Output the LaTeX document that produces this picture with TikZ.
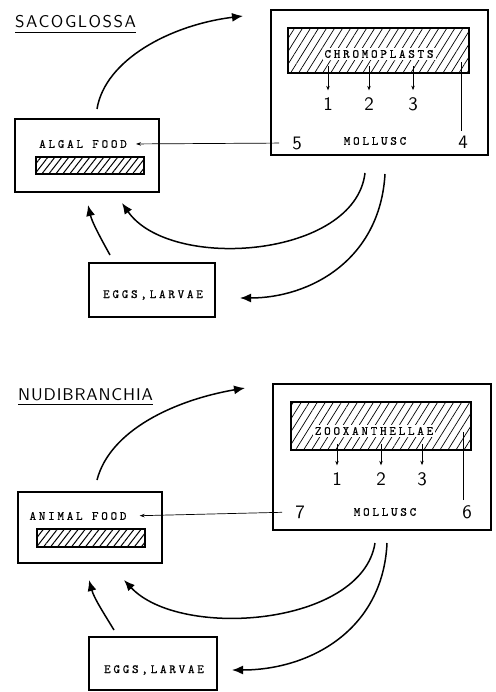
\documentclass[tikz,border=0pt]{standalone}
\usepackage{fontspec}
\usetikzlibrary{arrows.meta,patterns.meta}
\newfontfamily\labfont{lmmono10-regular.otf}[LetterSpace=22,FakeBold=0.6]
\newfontfamily\numfont{lmsans10-regular.otf}
\newfontfamily\ttlfont{lmsans10-regular.otf}[LetterSpace=9]
\newfontfamily\ttlfontb{lmsans10-regular.otf}[LetterSpace=5]
\begin{document}
\begin{tikzpicture}[x=1pt,y=-1pt,
  box/.style={draw,line width=1.7pt,inner sep=0pt,outer sep=0pt},
  lab/.style={font=\labfont\fontsize{12.5}{14}\selectfont,inner sep=1pt},
  num/.style={font=\numfont\fontsize{19}{21}\selectfont,inner sep=1pt},
  ttl/.style={font=\ttlfont\fontsize{17}{19}\selectfont,inner sep=0pt,anchor=base west},
  ttlb/.style={font=\ttlfontb\fontsize{17}{19}\selectfont,inner sep=0pt,anchor=base west},
  bigbar/.style={draw,line width=1.6pt,inner sep=0pt,pattern={Lines[angle=58,distance=6.8pt,line width=0.7pt]}},
  smallbar/.style={draw,line width=1.6pt,inner sep=0pt,pattern={Lines[angle=52,distance=5.5pt,line width=1pt]}},
  cyc/.style={line width=1.5pt,-{Latex[length=11pt,width=9pt]}},
  thinarr/.style={line width=0.7pt,-{Stealth[length=4.5pt,width=3.5pt]}},
  pointer/.style={line width=0.7pt,-{Stealth[length=5pt,width=3.5pt]}},
  leader/.style={line width=0.7pt}
]
\fill[white] (0,0) rectangle (495,692);
\useasboundingbox (0,0) rectangle (495,692);

% ---------------- SACOGLOSSA ----------------
\node[ttl] (t1) at (15,28) {SACOGLOSSA};
\draw[line width=0.7pt] ([yshift=-4pt]t1.base west) -- ([yshift=-4pt]t1.base east);

\node[box,minimum width=217pt,minimum height=145pt] (mollA) at (379.5,82.5) {};
\node[bigbar,minimum width=181pt,minimum height=45pt] (barA) at (378.5,50.5) {};
\node[lab,fill=white,inner sep=2pt] (chromo) at (379,54) {CHROMOPLASTS};
\node[lab] (mollAl) at (375,141) {MOLLUSC};
\node[num] (a1) at (328,104) {1};
\node[num] (a2) at (369,104) {2};
\node[num] (a3) at (413,104) {3};
\node[num] (a4) at (463,142) {4};
\node[num] (a5) at (297,143) {5};
\coordinate (c4) at (461,62);
\draw[thinarr] (a1.north |- barA.south) ++(0,-7) -- ([yshift=6pt]a1.north);
\draw[thinarr] (a2.north |- barA.south) ++(0,-7) -- ([yshift=6pt]a2.north);
\draw[thinarr] (a3.north |- barA.south) ++(0,-7) -- ([yshift=6pt]a3.north);
\draw[leader] ([yshift=4pt]a4.north -| c4) -- (c4);

\node[box,minimum width=144pt,minimum height=73pt] (foodA) at (87,155.5) {};
\node[lab] (foodAl) at (83,144) {ALGAL FOOD};
\node[smallbar,minimum width=108pt,minimum height=17pt] (fbarA) at (90,165.5) {};
\draw[pointer,shorten <=12pt,shorten >=8pt] (a5.west) -- (foodAl.east);

\node[box,minimum width=126pt,minimum height=54pt] (eggsA) at (152,290) {};
\node[lab] (eggsAl) at (153,295) {EGGS,LARVAE};

\coordinate (s1) at (97,109);   \coordinate (e1) at (243,16);
\coordinate (s2) at (365,173);  \coordinate (e2) at (122,203);
\coordinate (s3) at (385,174);  \coordinate (e3) at (240,298);
\coordinate (s4) at (110,255);  \coordinate (e4) at (88,205);
\draw[cyc] (s1) .. controls (105,60) and (170,25) .. (e1);
\draw[cyc] (s2) .. controls (355,258) and (170,272) .. (e2);
\draw[cyc] (s3) .. controls (380,260) and (310,298) .. (e3);
\draw[cyc] (s4) .. controls (100,237) and (92,222) .. (e4);

% ---------------- NUDIBRANCHIA ----------------
\node[ttlb] (t2) at (18,400) {NUDIBRANCHIA};
\draw[line width=0.7pt] ([yshift=-4pt]t2.base west) -- ([yshift=-4pt]t2.base east);

\node[box,minimum width=218pt,minimum height=146pt] (mollB) at (382,457) {};
\node[bigbar,minimum width=180pt,minimum height=48pt] (barB) at (381,426) {};
\node[lab,fill=white,inner sep=2pt] (zoo) at (374,431) {ZOOXANTHELLAE};
\node[lab] (mollBl) at (385,512) {MOLLUSC};
\node[num] (b1) at (337,479) {1};
\node[num] (b2) at (381,479) {2};
\node[num] (b3) at (422,479) {3};
\node[num] (b6) at (467,512) {6};
\node[num] (b7) at (300,512) {7};
\coordinate (c6) at (463,432);
\draw[thinarr] (b1.north |- barB.south) ++(0,-7) -- ([yshift=6pt]b1.north);
\draw[thinarr] (b2.north |- barB.south) ++(0,-7) -- ([yshift=6pt]b2.north);
\draw[thinarr] (b3.north |- barB.south) ++(0,-7) -- ([yshift=6pt]b3.north);
\draw[leader] ([yshift=4pt]b6.north -| c6) -- (c6);

\node[box,minimum width=144pt,minimum height=71pt] (foodB) at (90,527.5) {};
\node[lab] (foodBl) at (78,516) {ANIMAL FOOD};
\node[smallbar,minimum width=108pt,minimum height=18pt] (fbarB) at (91,538) {};
\draw[pointer,shorten <=12pt,shorten >=12pt] (b7.west) -- (foodBl.east);

\node[box,minimum width=128pt,minimum height=53pt] (eggsB) at (153,663.5) {};
\node[lab] (eggsBl) at (154,670) {EGGS,LARVAE};

\coordinate (u1) at (97,480);   \coordinate (v1) at (245,388);
\coordinate (u2) at (375,543);  \coordinate (v2) at (124,580);
\coordinate (u3) at (387,543);  \coordinate (v3) at (232,670);
\coordinate (u4) at (114,630);  \coordinate (v4) at (89,580);
\draw[cyc] (u1) .. controls (110,430) and (175,400) .. (v1);
\draw[cyc] (u2) .. controls (362,626) and (180,640) .. (v2);
\draw[cyc] (u3) .. controls (383,630) and (310,670) .. (v3);
\draw[cyc] (u4) .. controls (103,612) and (94,598) .. (v4);
\end{tikzpicture}
\end{document}
